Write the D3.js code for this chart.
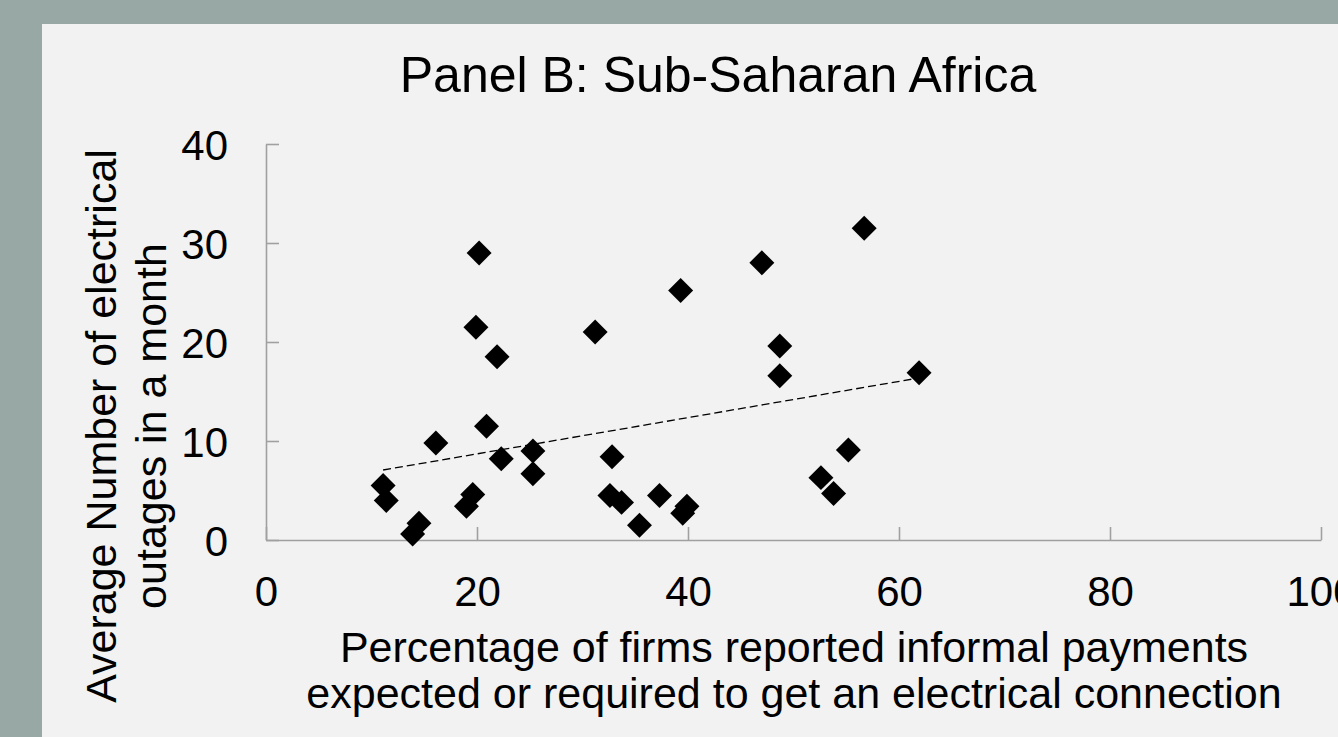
<!DOCTYPE html>
<html>
<head>
<meta charset="utf-8">
<script src="https://cdn.jsdelivr.net/npm/d3@7"></script>
<style>
  body { margin: 0; background: #97a8a5; }
  text { font-family: "Liberation Sans", Arial, sans-serif; fill: #000; }
</style>
</head>
<body>
<script>
// informal payments share (%) and average outages per month
const payments = [11.1, 11.4, 13.9, 14.5, 16.1, 19.0, 19.6, 20.2, 19.9, 20.9, 21.9, 22.3,
                  25.3, 25.3, 31.2, 32.8, 32.6, 33.7, 35.4, 37.3, 39.3, 39.5, 39.9,
                  47.0, 48.7, 48.7, 52.6, 53.8, 55.2, 56.7, 61.9];
const outages  = [5.5, 4.0, 0.6, 1.7, 9.8, 3.4, 4.6, 29.0, 21.5, 11.5, 18.5, 8.2,
                  9.0, 6.7, 21.0, 8.4, 4.5, 3.8, 1.5, 4.5, 25.2, 2.7, 3.4,
                  28.0, 19.6, 16.6, 6.3, 4.7, 9.1, 31.5, 16.9];
// ends of the linear trend line
const trendX = [11.1, 61.3];
const trendY = [7.07, 16.26];

const xTicks = [0, 20, 40, 60, 80, 100];
const yTicks = [0, 10, 20, 30, 40];

const width = 1338;
const height = 737;

const points = payments.map((p, i) => ({x: p, y: outages[i]}));

const xScale = d3.scaleLinear()
    .domain([0, 100])
    .range([266, 1321]);

const yScale = d3.scaleLinear()
    .domain([0, 40])
    .range([540, 144]);

const svg = d3.select('body')
    .append('svg')
        .attr('width', width)
        .attr('height', height)
        .style('display', 'block');

svg.append('rect')
    .attr('width', width)
    .attr('height', height)
    .attr('fill', '#97a8a5');

svg.append('rect')
    .attr('x', 42)
    .attr('y', 24)
    .attr('width', width - 42)
    .attr('height', height - 24)
    .attr('fill', '#f2f2f2');

// title
svg.append('text')
    .attr('x', 718)
    .attr('y', 92)
    .attr('text-anchor', 'middle')
    .style('font-size', '50px')
    .text('Panel B: Sub-Saharan Africa');

// x axis
const xAxis = svg.append('g')
    .attr('transform', `translate(0,${yScale(0)})`)
    .call(d3.axisBottom(xScale).tickValues(xTicks).tickSize(-13).tickSizeOuter(0));

xAxis.selectAll('text')
    .attr('y', 66)
    .attr('dy', 0)
    .style('font-size', '42px')
    .style('font-family', '"Liberation Sans", Arial, sans-serif');

// y axis
const yAxis = svg.append('g')
    .attr('transform', `translate(${xScale(0)},0)`)
    .call(d3.axisLeft(yScale).tickValues(yTicks).tickSize(-13).tickSizeOuter(0).tickPadding(38));

yAxis.selectAll('text')
    .attr('dy', '0.36em')
    .style('font-size', '42px')
    .style('font-family', '"Liberation Sans", Arial, sans-serif');

svg.selectAll('.domain, .tick line')
    .attr('stroke', '#a0a0a0')
    .attr('stroke-width', 1.6);

// axis titles
const xTitle = svg.append('text')
    .attr('text-anchor', 'middle')
    .style('font-size', '43px');
xTitle.append('tspan')
    .attr('x', 794).attr('y', 662)
    .text('Percentage of firms reported informal payments');
xTitle.append('tspan')
    .attr('x', 794).attr('y', 708)
    .text('expected or required to get an electrical connection');

const yTitle = svg.append('text')
    .attr('text-anchor', 'middle')
    .attr('transform', 'translate(0,426) rotate(-90)')
    .style('font-size', '43px');
yTitle.append('tspan')
    .attr('x', 0).attr('y', 116)
    .text('Average Number of electrical');
yTitle.append('tspan')
    .attr('x', 0).attr('y', 166)
    .text('outages in a month');

// trend line
svg.append('line')
    .attr('x1', xScale(trendX[0]))
    .attr('y1', yScale(trendY[0]))
    .attr('x2', xScale(trendX[1]))
    .attr('y2', yScale(trendY[1]))
    .attr('stroke', '#000')
    .attr('stroke-width', 1.3)
    .attr('stroke-dasharray', '8,4');

// diamonds
const diamond = d3.symbol().type(d3.symbolSquare).size(312);

svg.selectAll('path.pt')
    .data(points)
    .enter()
        .append('path')
            .attr('class', 'pt')
            .attr('d', diamond)
            .attr('transform', (d) => `translate(${xScale(d.x)},${yScale(d.y)}) rotate(45)`)
            .attr('fill', '#000');
</script>
</body>
</html>
